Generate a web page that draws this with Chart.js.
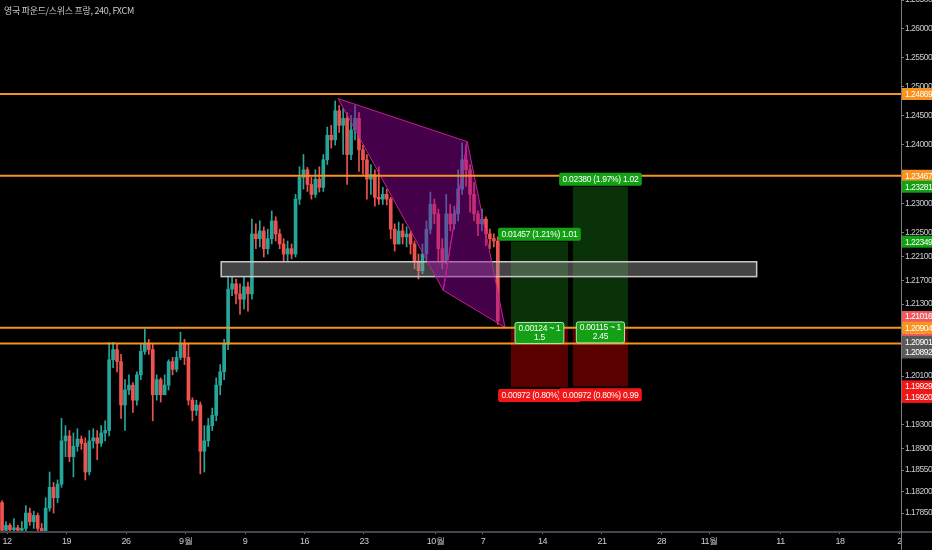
<!DOCTYPE html>
<html>
<head>
<meta charset="utf-8">
<script src="https://cdn.jsdelivr.net/npm/chart.js@4.4.0/dist/chart.umd.min.js"></script>
<style>
  html, body { margin: 0; background: #000; }
  canvas { display: block; }
</style>
</head>
<body>
<canvas id="chart" width="932" height="550"></canvas>
<script>
const chartTitle = '영국 파운드/스위스 프랑, 240, FXCM';

// candles, one every third of a trading day; open = previous close
const firstOpen = 1.1802;
const firstBarDay = -0.42;
const barStep = 1 / 3;
const closes = [
  1.1757, 1.1765, 1.1758, 1.1761, 1.1757, 1.1760, 1.1785, 1.1771, 1.1781, 1.1760,
  1.1755, 1.1793, 1.1827, 1.1810, 1.1832, 1.1903, 1.1911, 1.1877, 1.1894, 1.1906,
  1.1899, 1.1852, 1.1903, 1.1908, 1.1899, 1.1916, 1.1920, 1.2037, 1.2054, 1.2034,
  1.1962, 1.1987, 1.1995, 1.1970, 1.2012, 1.2051, 1.2063, 1.2054, 1.1979, 1.2004,
  1.1979, 1.1995, 1.2034, 1.2021, 1.2041, 1.2063, 1.2041, 1.1970, 1.1953, 1.1962,
  1.1886, 1.1903, 1.1928, 1.1945, 1.1995, 1.2017, 1.2063, 1.2155, 1.2164, 1.2147,
  1.2138, 1.2159, 1.2147, 1.2248, 1.2240, 1.2253, 1.2223, 1.2240, 1.2270, 1.2248,
  1.2231, 1.2214, 1.2223, 1.2214, 1.2307, 1.2344, 1.2357, 1.2332, 1.2315, 1.2341,
  1.2327, 1.2374, 1.2416, 1.2408, 1.2458, 1.2433, 1.2445, 1.2383, 1.2425, 1.2445,
  1.2391, 1.2374, 1.2341, 1.2349, 1.2310, 1.2307, 1.2315, 1.2307, 1.2256, 1.2231,
  1.2253, 1.2243, 1.2248, 1.2231, 1.2202, 1.2186, 1.2214, 1.2256, 1.2298, 1.2282,
  1.2223, 1.2202, 1.2282, 1.2265, 1.2282, 1.2324, 1.2374, 1.2357, 1.2315, 1.2282,
  1.2265, 1.2273, 1.2248, 1.2240, 1.2236, 1.2102
];
const highs = [
  1.1805, 1.1771, 1.1768, 1.1776, 1.1765, 1.1771, 1.1797, 1.1793, 1.1788, 1.1785,
  1.1768, 1.1810, 1.1852, 1.1835, 1.1839, 1.1940, 1.1928, 1.1920, 1.1916, 1.1923,
  1.1911, 1.1908, 1.1920, 1.1923, 1.1920, 1.1928, 1.1936, 1.2066, 1.2066, 1.2063,
  1.2046, 1.2004, 1.2012, 1.1999, 1.2017, 1.2063, 1.2088, 1.2071, 1.2063, 1.2012,
  1.2007, 1.2012, 1.2037, 1.2041, 1.2051, 1.2083, 1.2071, 1.2063, 1.1974, 1.1970,
  1.1967, 1.1928, 1.1940, 1.1957, 1.2007, 1.2029, 1.2071, 1.2177, 1.2175, 1.2172,
  1.2164, 1.2175, 1.2167, 1.2273, 1.2265, 1.2270, 1.2260, 1.2256, 1.2287, 1.2277,
  1.2256, 1.2240, 1.2236, 1.2231, 1.2315, 1.2362, 1.2383, 1.2361, 1.2344, 1.2357,
  1.2362, 1.2383, 1.2430, 1.2433, 1.2475, 1.2467, 1.2462, 1.2455, 1.2450, 1.2467,
  1.2455, 1.2399, 1.2383, 1.2366, 1.2357, 1.2362, 1.2327, 1.2324, 1.2310, 1.2265,
  1.2268, 1.2265, 1.2260, 1.2253, 1.2236, 1.2214, 1.2231, 1.2270, 1.2319, 1.2307,
  1.2290, 1.2240, 1.2315, 1.2298, 1.2295, 1.2357, 1.2403, 1.2399, 1.2366, 1.2335,
  1.2287, 1.2290, 1.2277, 1.2256, 1.2248, 1.2243
];
const lows = [
  1.1751, 1.1748, 1.1746, 1.1749, 1.1748, 1.1749, 1.1755, 1.1765, 1.1760, 1.1751,
  1.1748, 1.1751, 1.1788, 1.1785, 1.1802, 1.1827, 1.1877, 1.1869, 1.1844, 1.1886,
  1.1889, 1.1839, 1.1847, 1.1891, 1.1872, 1.1894, 1.1903, 1.1911, 1.2024, 1.2017,
  1.1940, 1.1920, 1.1979, 1.1950, 1.1962, 1.2004, 1.2046, 1.2046, 1.1936, 1.1970,
  1.1967, 1.1979, 1.1987, 1.2012, 1.2017, 1.2037, 1.2029, 1.1962, 1.1936, 1.1945,
  1.1849, 1.1852, 1.1894, 1.1920, 1.1936, 1.1979, 1.2004, 1.2054, 1.2144, 1.2130,
  1.2113, 1.2122, 1.2118, 1.2138, 1.2223, 1.2226, 1.2209, 1.2214, 1.2231, 1.2236,
  1.2223, 1.2202, 1.2202, 1.2206, 1.2209, 1.2298, 1.2324, 1.2320, 1.2307, 1.2310,
  1.2319, 1.2320, 1.2366, 1.2394, 1.2399, 1.2421, 1.2383, 1.2332, 1.2374, 1.2408,
  1.2354, 1.2349, 1.2307, 1.2315, 1.2295, 1.2298, 1.2298, 1.2297, 1.2240, 1.2219,
  1.2231, 1.2231, 1.2226, 1.2214, 1.2189, 1.2172, 1.2181, 1.2202, 1.2248, 1.2265,
  1.2202, 1.2189, 1.2197, 1.2253, 1.2256, 1.2270, 1.2315, 1.2329, 1.2285, 1.2270,
  1.2245, 1.2253, 1.2228, 1.2223, 1.2226, 1.2096
];

// x axis in trading days from Mon 12 Aug
const xMinDay = -0.59;
const xMaxDay = 75.13;
const dayTicks = [0, 5, 10, 15, 20, 25, 30, 36, 40, 45, 50, 55, 59, 65, 70, 75];
const dayLabels = ['12', '19', '26', '9월', '9', '16', '23', '10월', '7', '14', '21', '28', '11월', '11', '18', '2'];

// price axis (log scale like the original)
const yMinPrice = 1.17558;
const yMaxPrice = 1.26500;
const priceTicks = [1.265, 1.26, 1.255, 1.25, 1.245, 1.24, 1.23, 1.225, 1.221, 1.217, 1.213,
  1.201, 1.193, 1.189, 1.1855, 1.182, 1.1785];

// drawings
const levelPrices = [1.24869, 1.23467, 1.20904, 1.2064];
const zoneDays = [18.0, 63.0];
const zonePrices = [1.2201, 1.2176];
const patternDays = [27.82, 36.66, 38.68, 41.85];
const patternPrices = [1.2479, 1.2153, 1.2405, 1.2091];

// long position tools
const posStart = [42.35, 47.56];
const posEnd = [47.14, 52.18];
const posEntry = [1.20892, 1.20901];
const posTarget = [1.22349, 1.23281];
const posStop = [1.19920, 1.19929];
const posTopText = ['0.01457 (1.21%) 1.01', '0.02380 (1.97%) 1.02'];
const posMidText = [['0.00124 ~ 1', '1.5'], ['0.00115 ~ 1', '2.45']];
const posBottomText = ['0.00972 (0.80%) 0.99', '0.00972 (0.80%) 0.99'];

// price tags on the right axis
const tagValues = [1.24869, 1.23467, 1.23281, 1.22349, 1.21016, 1.20904, 1.20901, 1.20892, 1.19929, 1.19920];
const tagColors = ['#f7931e', '#f7931e', '#14a014', '#14a014', '#f05a5a', '#f7931e', '#5a5a5a', '#5a5a5a', '#f21616', '#f21616'];
const tagShift = [0, 0, 0, 0, 0, 0, 14, 24, 0, 10];
const countdown = '03:23:47';

const UP = '#26a69a';
const DOWN = '#ef5350';
const ORANGE = '#f7931e';
const LABEL_FONT = "'Liberation Sans', Arial, sans-serif";

const opens = closes.map((c, i) => i === 0 ? firstOpen : closes[i - 1]);
const barDays = closes.map((c, i) => firstBarDay + i * barStep);
const candleColors = closes.map((c, i) => c >= opens[i] ? UP : DOWN);

function roundRect(ctx, x, y, w, h, r) {
    ctx.beginPath();
    if (ctx.roundRect) ctx.roundRect(x, y, w, h, r);
    else ctx.rect(x, y, w, h);
}

function drawTag(ctx, text, cx, y, bg, fg) {
    ctx.font = '8.5px ' + LABEL_FONT;
    const w = ctx.measureText(text).width + 7;
    roundRect(ctx, cx - w / 2, y, w, 13, 2);
    ctx.fillStyle = bg;
    ctx.fill();
    ctx.fillStyle = fg;
    ctx.textAlign = 'center';
    ctx.textBaseline = 'middle';
    ctx.fillText(text, cx, y + 7);
}

const overlayPlugin = {
    id: 'overlay',
    beforeDraw(chart) {
        const ctx = chart.ctx;
        ctx.save();
        ctx.fillStyle = '#000';
        ctx.fillRect(0, 0, chart.width, chart.height);
        ctx.restore();
        // narrow the axis text a little, like the original terminal font
        ctx.letterSpacing = '-0.5px';
    },
    // boxes, zone and pattern sit above the candles but under the level lines
    afterDatasetDraw(chart, args) {
        if (args.index !== 1) return;
        const { ctx, chartArea, scales: { x, y } } = chart;
        ctx.save();
        ctx.beginPath();
        ctx.rect(chartArea.left, chartArea.top, chartArea.width, chartArea.height);
        ctx.clip();

        for (let k = 0; k < posEntry.length; k++) {
            const x0 = x.getPixelForValue(posStart[k]);
            const x1 = x.getPixelForValue(posEnd[k]);
            const yt = y.getPixelForValue(posTarget[k]);
            const ye = y.getPixelForValue(posEntry[k]);
            const ys = y.getPixelForValue(posStop[k]);
            ctx.fillStyle = 'rgba(20, 110, 20, 0.45)';
            ctx.fillRect(x0, yt, x1 - x0, ye - yt);
            ctx.fillStyle = 'rgba(150, 0, 0, 0.6)';
            ctx.fillRect(x0, ye, x1 - x0, ys - ye);
        }

        const zx0 = x.getPixelForValue(zoneDays[0]);
        const zx1 = x.getPixelForValue(zoneDays[1]);
        const zy0 = y.getPixelForValue(zonePrices[0]);
        const zy1 = y.getPixelForValue(zonePrices[1]);
        ctx.fillStyle = 'rgba(150, 150, 150, 0.45)';
        ctx.fillRect(zx0, zy0, zx1 - zx0, zy1 - zy0);
        ctx.strokeStyle = '#c8c8c8';
        ctx.lineWidth = 1.5;
        ctx.strokeRect(zx0, zy0, zx1 - zx0, zy1 - zy0);

        const pts = patternDays.map((d, i) => [x.getPixelForValue(d), y.getPixelForValue(patternPrices[i])]);
        [[0, 1, 2], [1, 2, 3]].forEach(tri => {
            ctx.beginPath();
            tri.forEach((p, j) => j === 0 ? ctx.moveTo(pts[p][0], pts[p][1]) : ctx.lineTo(pts[p][0], pts[p][1]));
            ctx.closePath();
            ctx.fillStyle = 'rgba(150, 0, 160, 0.45)';
            ctx.fill();
            ctx.strokeStyle = '#c71f95';
            ctx.lineWidth = 1;
            ctx.stroke();
        });
        ctx.restore();
    },
    afterDraw(chart) {
        const { ctx, chartArea, scales: { x, y } } = chart;
        ctx.save();
        ctx.letterSpacing = '-0.3px';

        // labels of the position tools
        for (let k = 0; k < posEntry.length; k++) {
            const cx = (x.getPixelForValue(posStart[k]) + x.getPixelForValue(posEnd[k])) / 2;
            drawTag(ctx, posTopText[k], cx, y.getPixelForValue(posTarget[k]) - 14, '#14a014', '#fff');
            drawTag(ctx, posBottomText[k], cx, y.getPixelForValue(posStop[k]) + 2, '#f21616', '#fff');
            const ye = y.getPixelForValue(posEntry[k]);
            ctx.font = '8.5px ' + LABEL_FONT;
            const w = ctx.measureText(posMidText[k][0]).width + 7;
            roundRect(ctx, cx - w / 2, ye - 6, w, 21, 2);
            ctx.fillStyle = '#14a014';
            ctx.fill();
            ctx.strokeStyle = '#b9e6b9';
            ctx.lineWidth = 1;
            ctx.stroke();
            ctx.fillStyle = '#fff';
            ctx.textAlign = 'center';
            ctx.textBaseline = 'middle';
            ctx.fillText(posMidText[k][0], cx, ye);
            ctx.fillText(posMidText[k][1], cx, ye + 9);
        }

        // axis lines
        ctx.strokeStyle = '#434651';
        ctx.lineWidth = 2;
        ctx.beginPath();
        ctx.moveTo(0, chartArea.bottom + 1);
        ctx.lineTo(chart.width, chartArea.bottom + 1);
        ctx.stroke();
        ctx.strokeStyle = '#787b86';
        ctx.lineWidth = 1;
        ctx.beginPath();
        ctx.moveTo(chartArea.right + 0.5, 0);
        ctx.lineTo(chartArea.right + 0.5, chart.height);
        ctx.stroke();

        // price tags
        ctx.letterSpacing = '-0.5px';
        const tx = chartArea.right + 1;
        const tw = chart.width - tx;
        ctx.textAlign = 'left';
        ctx.textBaseline = 'middle';
        ctx.font = '8.5px ' + LABEL_FONT;
        tagValues.forEach((v, i) => {
            const ty = y.getPixelForValue(v) + tagShift[i];
            ctx.fillStyle = tagColors[i];
            if (i === 4) {
                ctx.fillRect(tx, ty - 10, tw, 27);
                ctx.fillStyle = '#fff';
                ctx.fillText(v.toFixed(5), tx + 3, ty - 4);
                ctx.fillText(countdown, tx + 3, ty + 11);
            } else {
                ctx.fillRect(tx, ty - 6, tw, 12);
                ctx.fillStyle = '#fff';
                ctx.fillText(v.toFixed(5), tx + 3, ty + 0.5);
            }
        });

        // title
        ctx.letterSpacing = '-0.3px';
        ctx.fillStyle = '#c9ccd3';
        ctx.font = "9px 'Noto Sans CJK KR', sans-serif";
        ctx.fillText(chartTitle, 4, 11);
        ctx.restore();
    }
};

const datasets = [
    {
        type: 'bar',
        label: 'wicks',
        data: barDays.map((d, i) => ({ x: d, y: [lows[i], highs[i]] })),
        backgroundColor: candleColors,
        barThickness: 1,
        grouped: false,
        order: 3
    },
    {
        type: 'bar',
        label: 'bodies',
        data: barDays.map((d, i) => ({ x: d, y: [opens[i], closes[i]] })),
        backgroundColor: candleColors,
        barThickness: 3,
        minBarLength: 1,
        grouped: false,
        order: 2
    }
];
levelPrices.forEach(p => {
    datasets.push({
        type: 'line',
        label: 'level ' + p,
        data: [{ x: xMinDay, y: p }, { x: xMaxDay, y: p }],
        borderColor: ORANGE,
        borderWidth: 2,
        pointRadius: 0,
        order: 1
    });
});

new Chart(document.getElementById('chart'), {
    type: 'bar',
    data: { datasets },
    options: {
        responsive: false,
        animation: false,
        events: [],
        layout: { padding: 0 },
        plugins: { legend: { display: false }, tooltip: { enabled: false } },
        scales: {
            x: {
                type: 'linear',
                position: 'bottom',
                min: xMinDay,
                max: xMaxDay,
                offset: false,
                grid: { display: true, drawOnChartArea: false, drawTicks: true, tickLength: 3, color: '#787b86', offset: false },
                border: { display: false },
                afterBuildTicks: s => { s.ticks = dayTicks.map(v => ({ value: v })); },
                afterFit: s => { s.height = 19; s.paddingLeft = 0; s.paddingRight = 0; },
                ticks: {
                    autoSkip: false,
                    maxRotation: 0,
                    padding: 2,
                    color: '#c9ccd3',
                    font: { size: 9, family: LABEL_FONT },
                    callback: v => {
                        const k = dayTicks.indexOf(v);
                        return k >= 0 ? dayLabels[k] : '';
                    }
                }
            },
            y: {
                type: 'logarithmic',
                position: 'right',
                min: yMinPrice,
                max: yMaxPrice,
                grid: { display: true, drawOnChartArea: false, drawTicks: true, tickLength: 3, color: '#787b86' },
                border: { display: false },
                afterBuildTicks: s => { s.ticks = priceTicks.map(v => ({ value: v })); },
                afterFit: s => { s.width = 31; s.paddingTop = 0; s.paddingBottom = 0; },
                ticks: {
                    autoSkip: false,
                    padding: 1,
                    color: '#c9ccd3',
                    font: { size: 8.5, family: LABEL_FONT },
                    callback: v => Number(v).toFixed(5)
                }
            }
        }
    },
    plugins: [overlayPlugin]
});
</script>
</body>
</html>
